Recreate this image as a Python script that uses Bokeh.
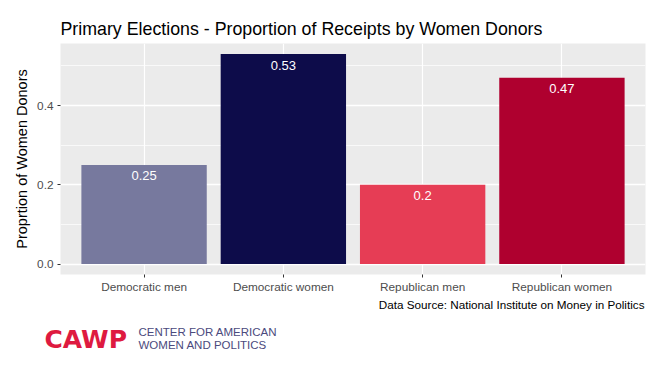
from bokeh.plotting import figure
from bokeh.models import (Range1d, FixedTicker, ColumnDataSource, Label, NumeralTickFormatter)
from bokeh.layouts import column, row
from bokeh.core.properties import value
from bokeh.embed import file_html
from bokeh.resources import INLINE

categories = ["Democratic men", "Democratic women", "Republican men", "Republican women"]
proportions = [0.25, 0.53, 0.2, 0.47]
labels = ["0.25", "0.53", "0.2", "0.47"]
colors = ["#77799E", "#0D0C4A", "#E63D55", "#AF002F"]
y_ticks = [0.0, 0.2, 0.4]
y_minor = [0.1, 0.3, 0.5]

FONT = "Liberation Sans"
positions = list(range(1, len(categories) + 1))

src = ColumnDataSource(dict(x=positions, top=proportions, color=colors, label=labels))

p = figure(width=665, height=298, output_backend="svg", toolbar_location=None,
           x_range=Range1d(0.4, 4.6), y_range=Range1d(-0.0265, 0.5565),
           min_border_left=60, min_border_right=20, min_border_top=43, min_border_bottom=24,
           background_fill_color="#EBEBEB", border_fill_color="white", outline_line_color=None)

p.title.text = "Primary Elections - Proportion of Receipts by Women Donors"
p.title.text_font = FONT
p.title.text_font_size = "17.8px"
p.title.text_font_style = "normal"
p.title.text_color = "black"
p.title.standoff = 10
p.title.offset = 0

p.vbar(x="x", top="top", width=0.9, bottom=0, source=src, fill_color="color", line_color=None)
p.text(x="x", y="top", text="label", source=src, text_color="white", text_font=value(FONT),
       text_font_size="13px", text_align="center", text_baseline="middle", y_offset=11)

# axes
p.xaxis.ticker = FixedTicker(ticks=positions)
p.xaxis.major_label_overrides = {i: c for i, c in zip(positions, categories)}
p.yaxis.ticker = FixedTicker(ticks=y_ticks, minor_ticks=y_minor)
p.yaxis.formatter = NumeralTickFormatter(format="0.0")
for ax in (p.xaxis, p.yaxis):
    ax.axis_line_color = None
    ax.major_tick_line_color = "#333333"
    ax.major_tick_in = 0
    ax.major_tick_out = 3
    ax.minor_tick_line_color = None
    ax.major_label_text_font = FONT
    ax.major_label_text_font_size = "11.8px"
    ax.major_label_text_color = "#4D4D4D"
p.xaxis.major_label_standoff = 2
p.yaxis.major_label_standoff = 3
p.yaxis.axis_label = "Proprtion of Women Donors"
p.yaxis.axis_label_text_font = FONT
p.yaxis.axis_label_text_font_size = "14.5px"
p.yaxis.axis_label_text_font_style = "normal"
p.yaxis.axis_label_text_color = "black"
p.yaxis.axis_label_standoff = 4

# grid
p.xgrid.grid_line_color = "white"
p.xgrid.grid_line_width = 1.2
p.ygrid.grid_line_color = "white"
p.ygrid.grid_line_width = 1.6
p.ygrid.minor_grid_line_color = "white"
p.ygrid.minor_grid_line_width = 0.7

# caption and logo strip (page coordinates)
f = figure(width=665, height=70, output_backend="svg", toolbar_location=None,
           x_range=Range1d(0, 665), y_range=Range1d(0, 70),
           min_border=0, min_border_left=0, min_border_right=0, min_border_top=0, min_border_bottom=0,
           background_fill_color="white", border_fill_color="white",
           outline_line_color=None)
f.axis.visible = False
f.grid.visible = False

f.add_layout(Label(x=644, y=64, text="Data Source: National Institute on Money in Politics",
                   text_font=FONT, text_font_size="11.7px", text_color="black",
                   text_align="right", text_baseline="alphabetic"))
f.add_layout(Label(x=44, y=29, text="CAWP",
                   text_font="DejaVu Sans", text_font_size="25px", text_font_style="bold",
                   text_color="#DE1A40", text_align="left", text_baseline="alphabetic"))
f.add_layout(Label(x=138, y=37, text="CENTER FOR AMERICAN",
                   text_font=FONT, text_font_size="11.5px", text_color="#4B4A7D",
                   text_align="left", text_baseline="alphabetic"))
f.add_layout(Label(x=138, y=24, text="WOMEN AND POLITICS",
                   text_font=FONT, text_font_size="11.5px", text_color="#4B4A7D",
                   text_align="left", text_baseline="alphabetic"))

layout = column(p, row(f), spacing=0)
open("out.html", "w").write(file_html(layout, INLINE))
